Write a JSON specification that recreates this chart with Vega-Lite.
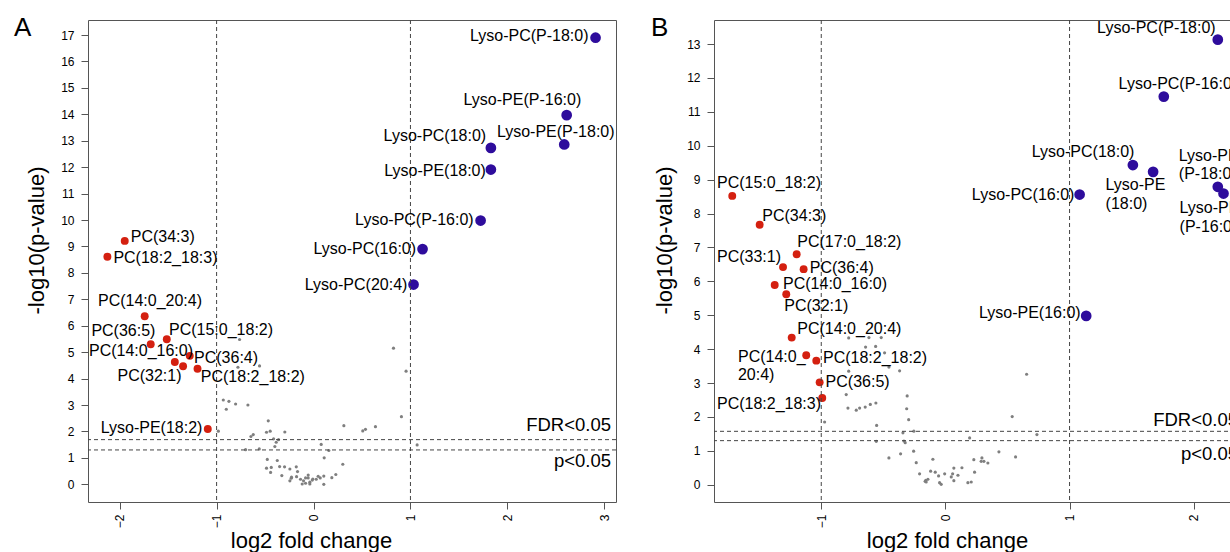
{
  "$schema": "https://vega.github.io/schema/vega-lite/v6.json",
  "padding": {"left": 13, "top": 14, "right": 0, "bottom": 0},
  "spacing": 33,
  "config": {
    "font": "Liberation Sans",
    "view": {"stroke": "#555", "strokeWidth": 1},
    "axis": {"grid": false, "domain": false, "tickColor": "#555", "tickSize": 7, "labelColor": "#000", "labelFontSize": 12, "labelOverlap": false, "labelSeparation": 0, "labelFont": "Liberation Sans", "titleFont": "Liberation Sans", "titleFontSize": 22, "titleFontWeight": "normal", "titleColor": "#000", "format": "d"},
    "title": {"font": "Liberation Sans", "fontSize": 26, "fontWeight": "normal", "color": "#000"}
  },
  "datasets": {
    "A": [
      {"group": "ns", "x": -0.763, "y": 5.48}, {"group": "ns", "x": -0.78, "y": 4.43}, {"group": "ns", "x": -0.557, "y": 4.48},
      {"group": "ns", "x": -0.931, "y": 3.19}, {"group": "ns", "x": -0.873, "y": 3.14}, {"group": "ns", "x": -0.804, "y": 3.04},
      {"group": "ns", "x": -0.9, "y": 2.84}, {"group": "ns", "x": -0.677, "y": 3.0}, {"group": "ns", "x": -0.467, "y": 2.4},
      {"group": "ns", "x": -0.485, "y": 1.97}, {"group": "ns", "x": -0.447, "y": 2.01}, {"group": "ns", "x": -0.296, "y": 1.98},
      {"group": "ns", "x": -0.982, "y": 2.01}, {"group": "ns", "x": -0.622, "y": 1.88}, {"group": "ns", "x": -0.646, "y": 1.81},
      {"group": "ns", "x": -0.412, "y": 1.72}, {"group": "ns", "x": -0.361, "y": 1.69}, {"group": "ns", "x": -0.385, "y": 1.59},
      {"group": "ns", "x": -0.399, "y": 1.43}, {"group": "ns", "x": -0.701, "y": 1.31}, {"group": "ns", "x": -0.56, "y": 1.34},
      {"group": "ns", "x": -0.477, "y": 0.94}, {"group": "ns", "x": -0.374, "y": 0.9}, {"group": "ns", "x": -0.485, "y": 0.61},
      {"group": "ns", "x": -0.436, "y": 0.64}, {"group": "ns", "x": -0.35, "y": 0.67}, {"group": "ns", "x": -0.299, "y": 0.66},
      {"group": "ns", "x": -0.244, "y": 0.58}, {"group": "ns", "x": -0.178, "y": 0.66}, {"group": "ns", "x": -0.165, "y": 0.48},
      {"group": "ns", "x": -0.327, "y": 0.33}, {"group": "ns", "x": -0.23, "y": 0.23}, {"group": "ns", "x": -0.175, "y": 0.29},
      {"group": "ns", "x": -0.134, "y": 0.19}, {"group": "ns", "x": -0.103, "y": 0.13}, {"group": "ns", "x": -0.082, "y": 0.24},
      {"group": "ns", "x": -0.038, "y": 0.08}, {"group": "ns", "x": -0.007, "y": 0.2}, {"group": "ns", "x": -0.117, "y": 0.01},
      {"group": "ns", "x": -0.443, "y": 0.45}, {"group": "ns", "x": -0.244, "y": 0.13}, {"group": "ns", "x": -0.227, "y": 0.27},
      {"group": "ns", "x": 0.825, "y": 5.15}, {"group": "ns", "x": 0.955, "y": 4.28}, {"group": "ns", "x": 0.907, "y": 2.56},
      {"group": "ns", "x": 0.313, "y": 2.22}, {"group": "ns", "x": 0.508, "y": 2.02}, {"group": "ns", "x": 0.536, "y": 2.08},
      {"group": "ns", "x": 0.639, "y": 2.18}, {"group": "ns", "x": 1.069, "y": 1.49}, {"group": "ns", "x": 0.079, "y": 1.51},
      {"group": "ns", "x": 0.158, "y": 1.28}, {"group": "ns", "x": 0.11, "y": 1.0}, {"group": "ns", "x": 0.302, "y": 0.76},
      {"group": "ns", "x": 0.23, "y": 0.37}, {"group": "ns", "x": 0.189, "y": 0.25}, {"group": "ns", "x": 0.106, "y": 0.31},
      {"group": "ns", "x": 0.069, "y": 0.24}, {"group": "ns", "x": 0.048, "y": 0.3}, {"group": "ns", "x": 0.028, "y": 0.19},
      {"group": "ns", "x": -0.013, "y": 0.16}, {"group": "ns", "x": -0.055, "y": 0.35}, {"group": "ns", "x": -0.055, "y": 0.24},
      {"group": "ns", "x": -0.038, "y": 0.01}, {"group": "ns", "x": 0.106, "y": 0.0}, {"group": "ns", "x": -0.082, "y": 0.04},
      {"group": "up", "name": "Lyso-PC(P-18:0)", "label": "Lyso-PC(P-18:0)", "x": 2.91, "y": 16.9, "lx": 1.614, "ly": 16.96},
      {"group": "up", "name": "Lyso-PE(P-16:0)", "label": "Lyso-PE(P-16:0)", "x": 2.612, "y": 13.97, "lx": 1.548, "ly": 14.54},
      {"group": "up", "name": "Lyso-PE(P-18:0)", "label": "Lyso-PE(P-18:0)", "x": 2.587, "y": 12.86, "lx": 1.892, "ly": 13.34},
      {"group": "up", "name": "Lyso-PC(18:0)", "label": "Lyso-PC(18:0)", "x": 1.83, "y": 12.73, "lx": 0.723, "ly": 13.18},
      {"group": "up", "name": "Lyso-PE(18:0)", "label": "Lyso-PE(18:0)", "x": 1.83, "y": 11.91, "lx": 0.729, "ly": 11.86},
      {"group": "up", "name": "Lyso-PC(P-16:0)", "label": "Lyso-PC(P-16:0)", "x": 1.724, "y": 9.98, "lx": 0.429, "ly": 10.0},
      {"group": "up", "name": "Lyso-PC(16:0)", "label": "Lyso-PC(16:0)", "x": 1.125, "y": 8.9, "lx": 0.0, "ly": 8.92},
      {"group": "up", "name": "Lyso-PC(20:4)", "label": "Lyso-PC(20:4)", "x": 1.032, "y": 7.56, "lx": -0.09, "ly": 7.54},
      {"group": "down", "name": "PC(34:3)", "label": "PC(34:3)", "x": -1.948, "y": 9.21, "lx": -1.886, "ly": 9.36},
      {"group": "down", "name": "PC(18:2_18:3)", "label": "PC(18:2_18:3)", "x": -2.127, "y": 8.61, "lx": -2.065, "ly": 8.57},
      {"group": "down", "name": "PC(14:0_20:4)", "label": "PC(14:0_20:4)", "x": -1.742, "y": 6.36, "lx": -2.224, "ly": 6.93},
      {"group": "down", "name": "PC(36:5)", "label": "PC(36:5)", "x": -1.68, "y": 5.3, "lx": -2.292, "ly": 5.79},
      {"group": "down", "name": "PC(15:0_18:2)", "label": "PC(15:0_18:2)", "x": -1.514, "y": 5.49, "lx": -1.491, "ly": 5.83},
      {"group": "down", "name": "PC(14:0_16:0)", "label": "PC(14:0_16:0)", "x": -1.431, "y": 4.63, "lx": -2.317, "ly": 5.04},
      {"group": "down", "name": "PC(32:1)", "label": "PC(32:1)", "x": -1.346, "y": 4.47, "lx": -2.023, "ly": 4.1},
      {"group": "down", "name": "PC(36:4)", "label": "PC(36:4)", "x": -1.277, "y": 4.86, "lx": -1.233, "ly": 4.78},
      {"group": "down", "name": "PC(18:2_18:2)", "label": "PC(18:2_18:2)", "x": -1.197, "y": 4.37, "lx": -1.163, "ly": 4.05},
      {"group": "down", "name": "Lyso-PE(18:2)", "label": "Lyso-PE(18:2)", "x": -1.091, "y": 2.09, "lx": -2.196, "ly": 2.13}
    ],
    "B": [
      {"group": "ns", "x": -0.779, "y": 4.33}, {"group": "ns", "x": -0.616, "y": 4.34}, {"group": "ns", "x": -0.517, "y": 4.34},
      {"group": "ns", "x": -0.643, "y": 4.06}, {"group": "ns", "x": -0.562, "y": 4.08}, {"group": "ns", "x": -0.779, "y": 3.35},
      {"group": "ns", "x": -0.369, "y": 3.36}, {"group": "ns", "x": -0.49, "y": 3.89}, {"group": "ns", "x": -0.455, "y": 3.47},
      {"group": "ns", "x": -0.799, "y": 2.66}, {"group": "ns", "x": -0.308, "y": 2.62}, {"group": "ns", "x": -0.785, "y": 2.26},
      {"group": "ns", "x": -0.718, "y": 2.2}, {"group": "ns", "x": -0.691, "y": 2.26}, {"group": "ns", "x": -0.646, "y": 2.29},
      {"group": "ns", "x": -0.605, "y": 2.37}, {"group": "ns", "x": -0.56, "y": 2.41}, {"group": "ns", "x": -0.312, "y": 2.24},
      {"group": "ns", "x": -0.296, "y": 1.92}, {"group": "ns", "x": -0.973, "y": 1.85}, {"group": "ns", "x": -0.554, "y": 1.75},
      {"group": "ns", "x": -0.342, "y": 1.53}, {"group": "ns", "x": -0.254, "y": 1.58}, {"group": "ns", "x": -0.557, "y": 1.28},
      {"group": "ns", "x": -0.334, "y": 1.29}, {"group": "ns", "x": -0.324, "y": 1.24}, {"group": "ns", "x": -0.455, "y": 0.79},
      {"group": "ns", "x": -0.361, "y": 0.91}, {"group": "ns", "x": -0.256, "y": 0.99}, {"group": "ns", "x": -0.235, "y": 0.65},
      {"group": "ns", "x": -0.208, "y": 0.32}, {"group": "ns", "x": -0.163, "y": 0.1}, {"group": "ns", "x": -0.158, "y": 0.13},
      {"group": "ns", "x": 0.654, "y": 3.26}, {"group": "ns", "x": 0.538, "y": 2.01}, {"group": "ns", "x": 0.737, "y": 1.48},
      {"group": "ns", "x": 0.195, "y": 1.38}, {"group": "ns", "x": 0.431, "y": 0.97}, {"group": "ns", "x": 0.565, "y": 0.82},
      {"group": "ns", "x": -0.101, "y": 0.75}, {"group": "ns", "x": 0.229, "y": 0.74}, {"group": "ns", "x": 0.294, "y": 0.79},
      {"group": "ns", "x": 0.288, "y": 0.69}, {"group": "ns", "x": 0.31, "y": 0.69}, {"group": "ns", "x": 0.342, "y": 0.64},
      {"group": "ns", "x": 0.133, "y": 0.5}, {"group": "ns", "x": 0.068, "y": 0.49}, {"group": "ns", "x": 0.235, "y": 0.37},
      {"group": "ns", "x": 0.101, "y": 0.28}, {"group": "ns", "x": 0.058, "y": 0.32}, {"group": "ns", "x": 0.047, "y": 0.23},
      {"group": "ns", "x": 0.068, "y": 0.12}, {"group": "ns", "x": -0.006, "y": 0.32}, {"group": "ns", "x": -0.055, "y": 0.26},
      {"group": "ns", "x": -0.082, "y": 0.37}, {"group": "ns", "x": -0.119, "y": 0.4}, {"group": "ns", "x": -0.141, "y": 0.16},
      {"group": "ns", "x": -0.155, "y": 0.08}, {"group": "ns", "x": -0.047, "y": 0.06}, {"group": "ns", "x": -0.034, "y": 0.01},
      {"group": "ns", "x": 0.181, "y": 0.06}, {"group": "ns", "x": 0.208, "y": 0.08},
      {"group": "down", "name": "PC(15:0_18:2)", "label": "PC(15:0_18:2)", "x": -1.717, "y": 8.52, "lx": -1.84, "ly": 8.9},
      {"group": "down", "name": "PC(34:3)", "label": "PC(34:3)", "x": -1.496, "y": 7.67, "lx": -1.475, "ly": 7.92},
      {"group": "down", "name": "PC(17:0_18:2)", "label": "PC(17:0_18:2)", "x": -1.198, "y": 6.8, "lx": -1.193, "ly": 7.16},
      {"group": "down", "name": "PC(33:1)", "label": "PC(33:1)", "x": -1.308, "y": 6.42, "lx": -1.84, "ly": 6.72},
      {"group": "down", "name": "PC(36:4)", "label": "PC(36:4)", "x": -1.142, "y": 6.36, "lx": -1.093, "ly": 6.38},
      {"group": "down", "name": "PC(14:0_16:0)", "label": "PC(14:0_16:0)", "x": -1.375, "y": 5.89, "lx": -1.308, "ly": 5.92},
      {"group": "down", "name": "PC(32:1)", "label": "PC(32:1)", "x": -1.282, "y": 5.62, "lx": -1.298, "ly": 5.27},
      {"group": "down", "name": "PC(14:0_20:4)", "label": "PC(14:0_20:4)", "x": -1.238, "y": 4.34, "lx": -1.193, "ly": 4.6},
      {"group": "down", "name": "PC(14:0_20:4)b", "label": "PC(14:0_\n20:4)", "x": -1.121, "y": 3.82, "lx": -1.671, "ly": 3.77},
      {"group": "down", "name": "PC(18:2_18:2)", "label": "PC(18:2_18:2)", "x": -1.04, "y": 3.66, "lx": -0.986, "ly": 3.74},
      {"group": "down", "name": "PC(36:5)", "label": "PC(36:5)", "x": -1.013, "y": 3.02, "lx": -0.965, "ly": 3.03},
      {"group": "down", "name": "PC(18:2_18:3)", "label": "PC(18:2_18:3)", "x": -0.992, "y": 2.56, "lx": -1.84, "ly": 2.39},
      {"group": "up", "name": "Lyso-PC(P-18:0)", "label": "Lyso-PC(P-18:0)", "x": 2.194, "y": 13.13, "lx": 1.222, "ly": 13.46},
      {"group": "up", "name": "Lyso-PC(P-16:0)", "label": "Lyso-PC(P-16:0)", "x": 1.759, "y": 11.45, "lx": 1.395, "ly": 11.82},
      {"group": "up", "name": "Lyso-PC(18:0)", "label": "Lyso-PC(18:0)", "x": 1.51, "y": 9.43, "lx": 0.696, "ly": 9.82},
      {"group": "up", "name": "Lyso-PE(18:0)", "label": "Lyso-PE\n(18:0)", "x": 1.673, "y": 9.23, "lx": 1.29, "ly": 8.84},
      {"group": "up", "name": "Lyso-PE(P-18:0)", "label": "Lyso-PE\n(P-18:0)", "x": 2.194, "y": 8.79, "lx": 1.88, "ly": 9.7},
      {"group": "up", "name": "Lyso-PE(P-16:0)", "label": "Lyso-PE\n(P-16:0)", "x": 2.24, "y": 8.59, "lx": 1.886, "ly": 8.15},
      {"group": "up", "name": "Lyso-PC(16:0)", "label": "Lyso-PC(16:0)", "x": 1.081, "y": 8.56, "lx": 0.213, "ly": 8.56},
      {"group": "up", "name": "Lyso-PE(16:0)", "label": "Lyso-PE(16:0)", "x": 1.134, "y": 4.98, "lx": 0.27, "ly": 5.08}
    ],
    "linesA": [{"dir": "v", "x": -1}, {"dir": "v", "x": 1}, {"dir": "h", "y": 1.69}, {"dir": "h", "y": 1.3}],
    "linesB": [{"dir": "v", "x": -1}, {"dir": "v", "x": 1}, {"dir": "h", "y": 1.575}, {"dir": "h", "y": 1.3}],
    "notesA": [{"label": "FDR<0.05", "lx": 3.07, "ly": 2.23}, {"label": "p<0.05", "lx": 3.07, "ly": 0.88}],
    "notesB": [{"label": "FDR<0.05", "lx": 2.357, "ly": 1.9}, {"label": "p<0.05", "lx": 2.357, "ly": 0.915}]
  },
  "hconcat": [
    {
      "width": 528,
      "height": 482,
      "title": {"text": "A", "anchor": "start", "frame": "group", "dx": -74, "offset": -42, "baseline": "alphabetic"},
      "layer": [
        {
          "data": {"name": "A"},
          "mark": {"type": "circle", "opacity": 1},
          "encoding": {
            "x": {"field": "x", "type": "quantitative", "title": "log2 fold change",
              "scale": {"domain": [-2.327, 3.121], "nice": false, "zero": false},
              "axis": {"values": [-2, -1, 0, 1, 2, 3], "labelOverlap": false, "labelAngle": 270, "labelPadding": 5, "titleX": 223, "titleY": 45, "titleBaseline": "alphabetic", "titleAlign": "center"}},
            "y": {"field": "y", "type": "quantitative", "title": "-log10(p-value)",
              "scale": {"domain": [-0.67, 17.57], "nice": false, "zero": false},
              "axis": {"values": [0,1,2,3,4,5,6,7,8,9,10,11,12,13,14,15,16,17], "tickCount": 18, "labelOverlap": false, "labelPadding": 7, "titleX": -44.5, "titleY": 220, "titleBaseline": "alphabetic", "titleAlign": "center"}},
            "color": {"field": "group", "type": "nominal", "legend": null, "scale": {"domain": ["ns", "down", "up"], "range": ["#7f7f7f", "#d42010", "#2e0c9c"]}},
            "size": {"field": "group", "type": "nominal", "legend": null, "scale": {"domain": ["ns", "down", "up"], "range": [10, 115, 115]}}
          }
        },
        {
          "data": {"name": "linesA"},
          "transform": [{"filter": "datum.dir === 'v'"}],
          "mark": {"type": "rule", "color": "#444", "strokeDash": [4, 3], "strokeWidth": 1},
          "encoding": {"x": {"field": "x", "type": "quantitative", "title": "log2 fold change"}}
        },
        {
          "data": {"name": "linesA"},
          "transform": [{"filter": "datum.dir === 'h'"}],
          "mark": {"type": "rule", "color": "#444", "strokeDash": [4, 3], "strokeWidth": 1},
          "encoding": {"y": {"field": "y", "type": "quantitative", "title": "-log10(p-value)",
            "axis": {"values": [0,1,2,3,4,5,6,7,8,9,10,11,12,13,14,15,16,17], "tickCount": 18, "labelOverlap": false, "labelPadding": 7, "titleX": -44.5, "titleY": 220, "titleBaseline": "alphabetic", "titleAlign": "center"}}}
        },
        {
          "data": {"name": "A"},
          "transform": [{"filter": "isValid(datum.lx)"}],
          "mark": {"type": "text", "align": "left", "baseline": "middle", "fontSize": 16, "lineBreak": "\n", "lineHeight": 18.5, "color": "#000"},
          "encoding": {
            "x": {"field": "lx", "type": "quantitative", "title": "log2 fold change"},
            "y": {"field": "ly", "type": "quantitative", "title": "-log10(p-value)",
              "axis": {"values": [0,1,2,3,4,5,6,7,8,9,10,11,12,13,14,15,16,17], "tickCount": 18, "labelOverlap": false, "labelPadding": 7, "titleX": -44.5, "titleY": 220, "titleBaseline": "alphabetic", "titleAlign": "center"}},
            "text": {"field": "label"}
          }
        },
        {
          "data": {"name": "notesA"},
          "mark": {"type": "text", "align": "right", "baseline": "middle", "fontSize": 18.5, "color": "#000"},
          "encoding": {
            "x": {"field": "lx", "type": "quantitative", "title": "log2 fold change"},
            "y": {"field": "ly", "type": "quantitative", "title": "-log10(p-value)",
              "axis": {"values": [0,1,2,3,4,5,6,7,8,9,10,11,12,13,14,15,16,17], "tickCount": 18, "labelOverlap": false, "labelPadding": 7, "titleX": -44.5, "titleY": 220, "titleBaseline": "alphabetic", "titleAlign": "center"}},
            "text": {"field": "label"}
          }
        }
      ]
    },
    {
      "width": 528,
      "height": 482,
      "title": {"text": "B", "anchor": "start", "frame": "group", "dx": -63, "offset": -42, "baseline": "alphabetic"},
      "layer": [
        {
          "data": {"name": "B"},
          "mark": {"type": "circle", "opacity": 1},
          "encoding": {
            "x": {"field": "x", "type": "quantitative", "title": "log2 fold change",
              "scale": {"domain": [-1.864, 2.389], "nice": false, "zero": false},
              "axis": {"values": [-1, 0, 1, 2], "labelOverlap": false, "labelAngle": 270, "labelPadding": 5, "titleX": 233, "titleY": 45, "titleBaseline": "alphabetic", "titleAlign": "center"}},
            "y": {"field": "y", "type": "quantitative", "title": "-log10(p-value)",
              "scale": {"domain": [-0.51, 13.71], "nice": false, "zero": false},
              "axis": {"values": [0,1,2,3,4,5,6,7,8,9,10,11,12,13], "tickCount": 14, "labelOverlap": false, "labelPadding": 7, "titleX": -43, "titleY": 220, "titleBaseline": "alphabetic", "titleAlign": "center"}},
            "color": {"field": "group", "type": "nominal", "legend": null, "scale": {"domain": ["ns", "down", "up"], "range": ["#7f7f7f", "#d42010", "#2e0c9c"]}},
            "size": {"field": "group", "type": "nominal", "legend": null, "scale": {"domain": ["ns", "down", "up"], "range": [10, 115, 115]}}
          }
        },
        {
          "data": {"name": "linesB"},
          "transform": [{"filter": "datum.dir === 'v'"}],
          "mark": {"type": "rule", "color": "#444", "strokeDash": [4, 3], "strokeWidth": 1},
          "encoding": {"x": {"field": "x", "type": "quantitative", "title": "log2 fold change"}}
        },
        {
          "data": {"name": "linesB"},
          "transform": [{"filter": "datum.dir === 'h'"}],
          "mark": {"type": "rule", "color": "#444", "strokeDash": [4, 3], "strokeWidth": 1},
          "encoding": {"y": {"field": "y", "type": "quantitative", "title": "-log10(p-value)",
            "axis": {"values": [0,1,2,3,4,5,6,7,8,9,10,11,12,13], "tickCount": 14, "labelOverlap": false, "labelPadding": 7, "titleX": -43, "titleY": 220, "titleBaseline": "alphabetic", "titleAlign": "center"}}}
        },
        {
          "data": {"name": "B"},
          "transform": [{"filter": "isValid(datum.lx)"}],
          "mark": {"type": "text", "align": "left", "baseline": "middle", "fontSize": 16, "lineBreak": "\n", "lineHeight": 18.5, "color": "#000"},
          "encoding": {
            "x": {"field": "lx", "type": "quantitative", "title": "log2 fold change"},
            "y": {"field": "ly", "type": "quantitative", "title": "-log10(p-value)",
              "axis": {"values": [0,1,2,3,4,5,6,7,8,9,10,11,12,13], "tickCount": 14, "labelOverlap": false, "labelPadding": 7, "titleX": -43, "titleY": 220, "titleBaseline": "alphabetic", "titleAlign": "center"}},
            "text": {"field": "label"}
          }
        },
        {
          "data": {"name": "notesB"},
          "mark": {"type": "text", "align": "right", "baseline": "middle", "fontSize": 18.5, "color": "#000"},
          "encoding": {
            "x": {"field": "lx", "type": "quantitative", "title": "log2 fold change"},
            "y": {"field": "ly", "type": "quantitative", "title": "-log10(p-value)",
              "axis": {"values": [0,1,2,3,4,5,6,7,8,9,10,11,12,13], "tickCount": 14, "labelOverlap": false, "labelPadding": 7, "titleX": -43, "titleY": 220, "titleBaseline": "alphabetic", "titleAlign": "center"}},
            "text": {"field": "label"}
          }
        }
      ]
    }
  ]
}
